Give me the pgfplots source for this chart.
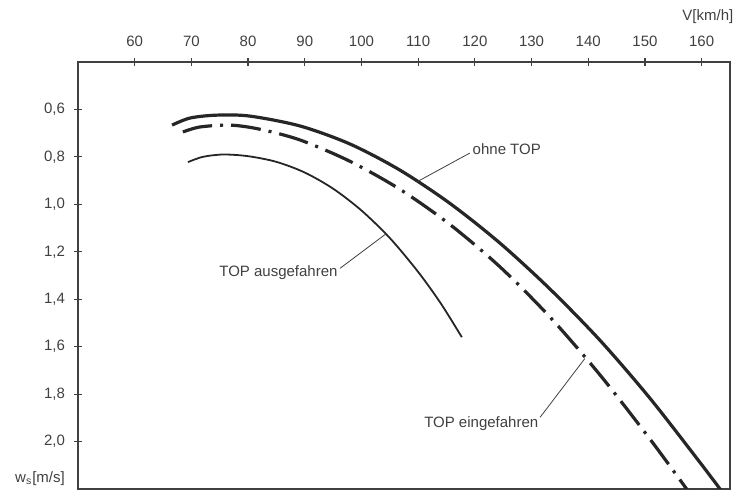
\documentclass[border=0pt]{standalone}
\usepackage{fontspec}
\setmainfont{Liberation Sans}
\usepackage{pgfplots}
\pgfplotsset{compat=1.18}
\definecolor{ink}{gray}{0.25}
\definecolor{curve}{gray}{0.15}
\begin{document}
\begin{tikzpicture}
\begin{axis}[
  scale only axis, width=326pt, height=213.5pt,
  xmin=50, xmax=165, ymin=0.4, ymax=2.2, y dir=reverse,
  xtick={60,70,80,90,100,110,120,130,140,150,160},
  ytick={0.6,0.8,1.0,1.2,1.4,1.6,1.8,2.0},
  xtick pos=upper, xticklabel pos=upper, ytick pos=left,
  tick align=center, major tick length=4pt,
  axis line style={ink, line width=0.7pt},
  tick style={ink, line width=0.6pt},
  /pgf/number format/assume math mode=true,
  ticklabel style={font=\fontsize{7.5}{9}\selectfont, text=ink},
  xticklabel style={yshift=2pt},
  yticklabel style={xshift=-1pt, /pgf/number format/.cd, fixed, fixed zerofill, precision=1, use comma},
  clip mode=individual,
]
% ohne TOP
\addplot[curve, line width=1.6pt, smooth] coordinates {
(66.6,0.666) (69.8,0.636) (74.5,0.624) (80.3,0.628) (89.2,0.670) (98.0,0.746)
(106.8,0.856) (115.6,0.996) (124.4,1.163) (133.2,1.356) (142.1,1.574)
(150.9,1.818) (159.7,2.088) (163.4,2.205)};
% TOP eingefahren
\addplot[curve, line width=1.6pt, smooth, dash pattern=on 15pt off 4pt on 1.5pt off 4pt] coordinates {
(68.5,0.695) (71.5,0.674) (76.8,0.666) (82.0,0.683) (89.2,0.729) (98.0,0.819)
(106.8,0.937) (115.6,1.085) (124.4,1.263) (133.2,1.474) (142.1,1.720)
(150.9,1.990) (157.5,2.205)};
% TOP ausgefahren
\addplot[curve, line width=0.9pt, smooth] coordinates {
(69.4,0.822) (72.0,0.800) (75.6,0.790) (80.0,0.797) (85.0,0.821) (90.0,0.866)
(95.0,0.934) (100.0,1.026) (105.0,1.142) (110.0,1.285) (114.0,1.418) (117.7,1.560)};
% annotations
\draw[ink, line width=0.4pt] (axis cs:109.8,0.905) -- (axis cs:119.1,0.784);
\node[anchor=west, inner sep=1pt, text=ink, font=\fontsize{7.5}{9}\selectfont] at (axis cs:119.2,0.767) {ohne TOP};
\draw[ink, line width=0.4pt] (axis cs:96.2,1.27) -- (axis cs:104.3,1.125);
\node[anchor=east, inner sep=1pt, text=ink, font=\fontsize{7.5}{9}\selectfont] at (axis cs:96.2,1.286) {TOP ausgefahren};
\draw[ink, line width=0.4pt] (axis cs:131.5,1.898) -- (axis cs:139.4,1.650);
\node[anchor=east, inner sep=1pt, text=ink, font=\fontsize{7.5}{9}\selectfont] at (axis cs:131.6,1.923) {TOP eingefahren};
\node[anchor=east, inner sep=1pt, text=ink, font=\fontsize{7.5}{9}\selectfont] at (axis cs:48.1,2.155) {w\textsubscript{s}[m/s]};
\node[anchor=center, inner sep=1pt, text=ink, font=\fontsize{7.5}{9}\selectfont] at (axis cs:161.1,0.21) {V[km/h]};
\end{axis}
\pgfresetboundingbox
\path[use as bounding box] (-39pt,-1.5pt) rectangle (334pt,244.5pt);
\end{tikzpicture}
\end{document}
